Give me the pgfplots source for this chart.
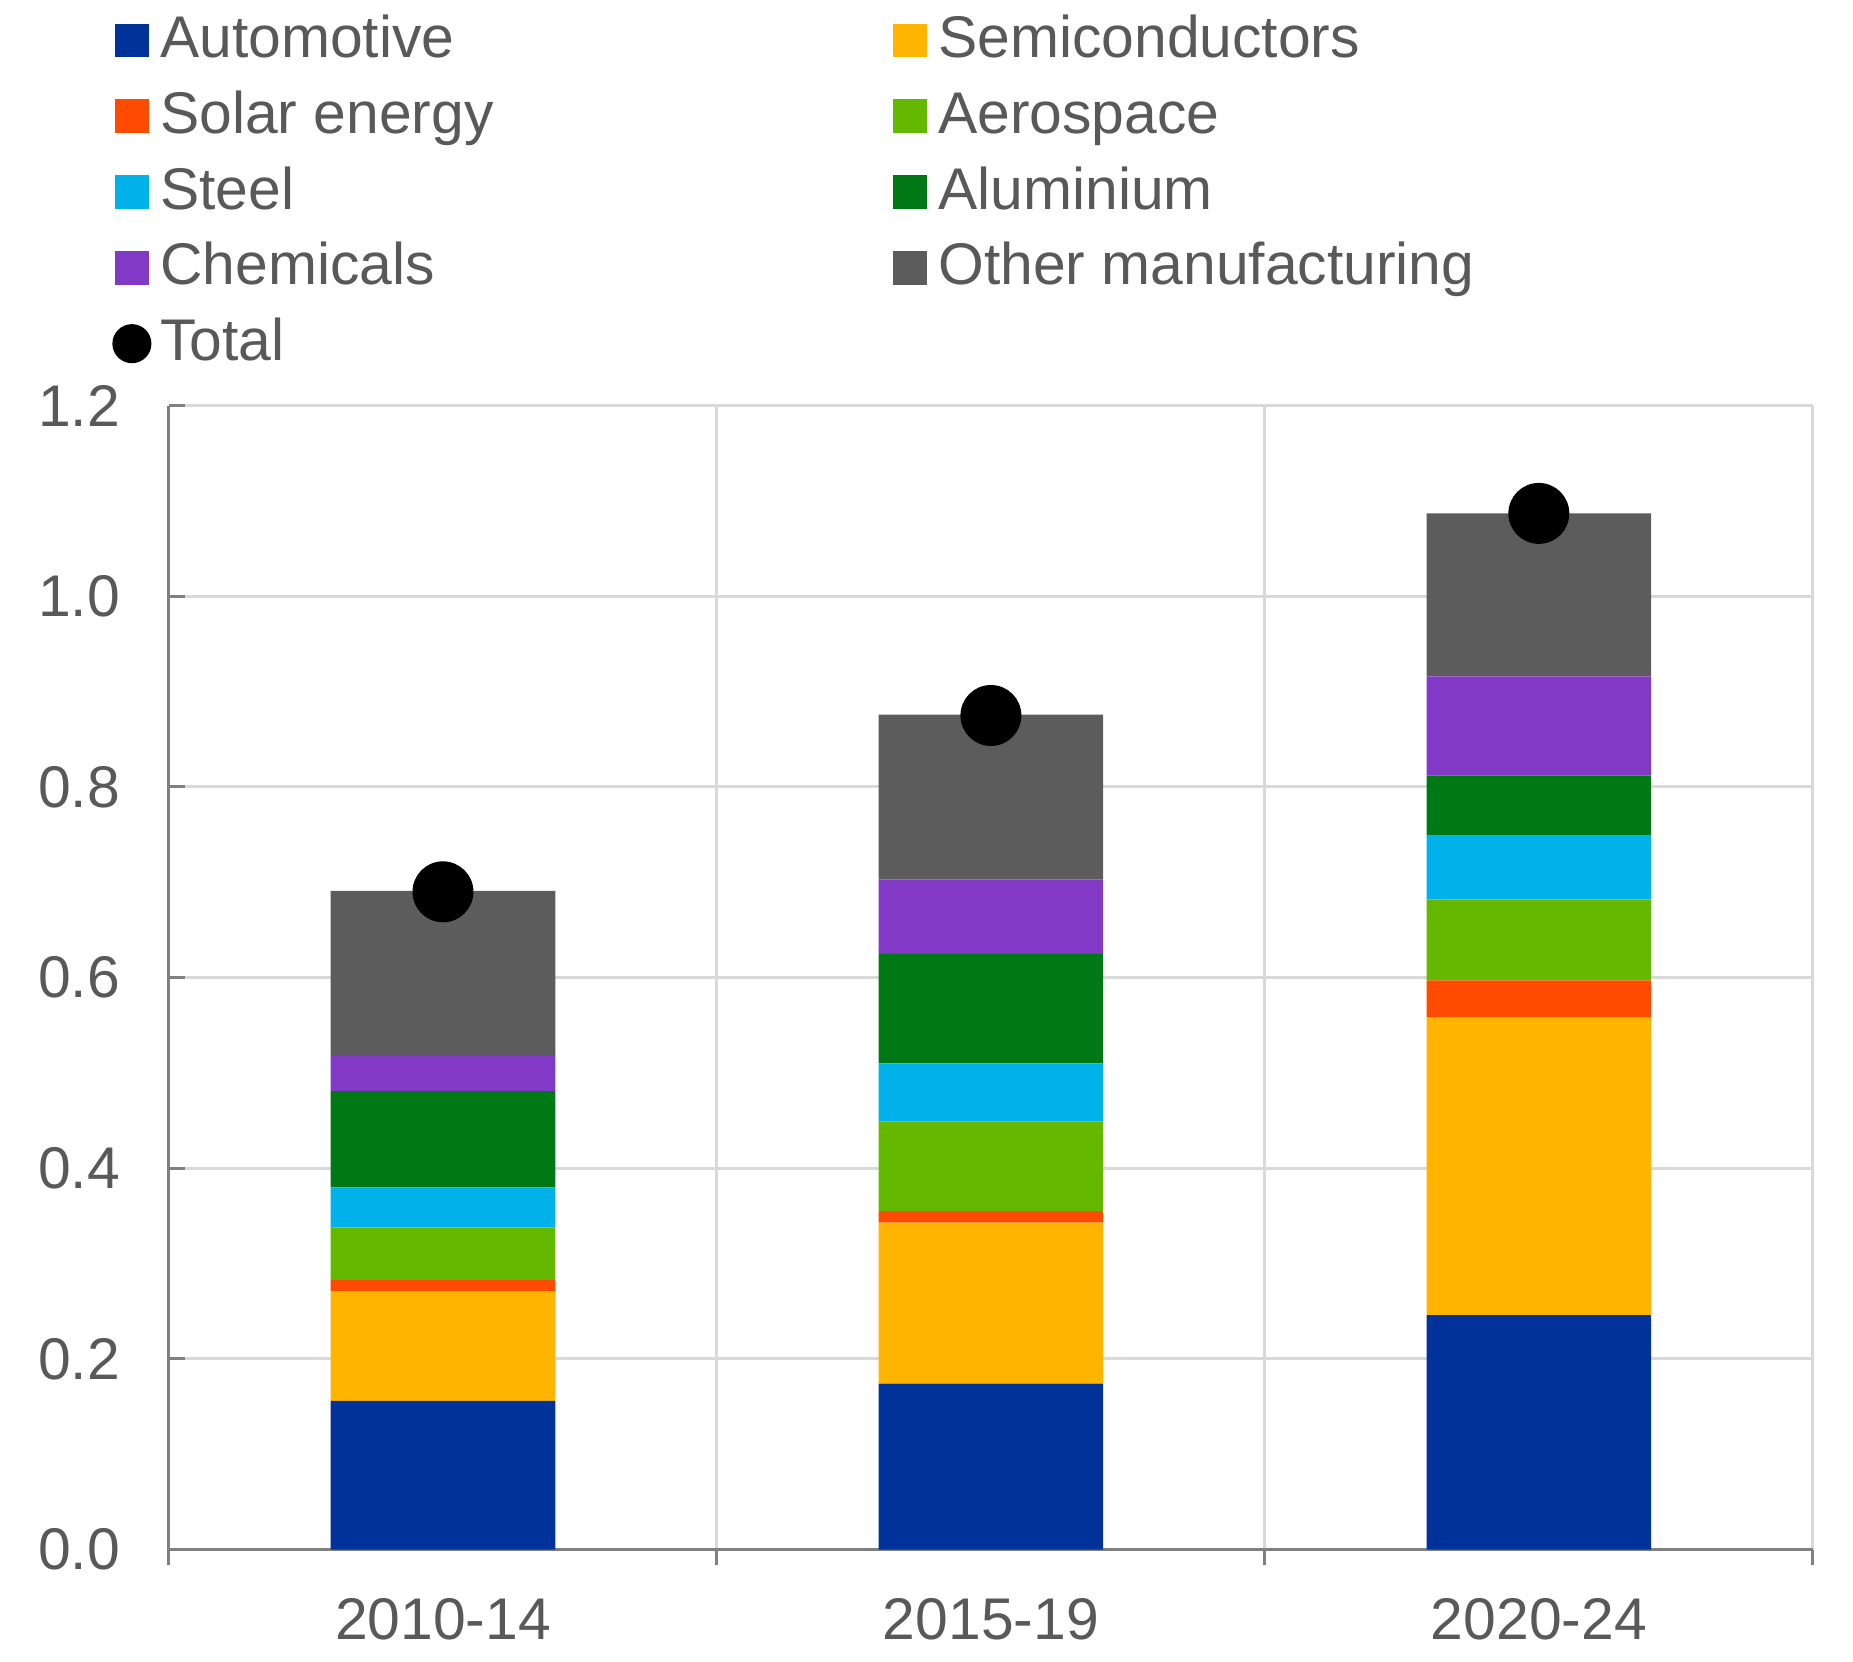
\documentclass[border=0pt]{standalone}
\usepackage{fontspec}
\setmainfont{Liberation Sans}
\usepackage{pgfplots}
\pgfplotsset{compat=1.18}
\definecolor{cAuto}{HTML}{003299}
\definecolor{cSemi}{HTML}{FFB400}
\definecolor{cSolar}{HTML}{FF4B00}
\definecolor{cAero}{HTML}{65B800}
\definecolor{cSteel}{HTML}{00B1EA}
\definecolor{cAlum}{HTML}{007816}
\definecolor{cChem}{HTML}{8139C6}
\definecolor{cOther}{HTML}{5C5C5C}
\definecolor{tgray}{HTML}{595959}
\definecolor{agray}{HTML}{808080}
\definecolor{ggray}{HTML}{D9D9D9}
\newcommand{\LE}[1]{\makebox[153.35pt][l]{\rule[-4.39pt]{0pt}{15.92pt}#1}}
\newcommand{\LR}[1]{\rule[-4.39pt]{0pt}{15.92pt}#1}
\pgfplotsset{
  sqleg/.style={legend image code/.code={\fill[##1] (0pt,-3.55pt) rectangle (7.1pt,3.55pt); \path[draw=none,fill=none] (-0.55pt,-4.1pt) rectangle (9.5pt,4.1pt);}},
  dotleg/.style={legend image code/.code={\fill[black,draw=none] (3.55pt,0pt) circle (4.1pt); \path[draw=none,fill=none] (-0.55pt,-4.1pt) rectangle (9.5pt,4.1pt);}},
}
\begin{document}
\begin{tikzpicture}
\begin{axis}[
  at={(0pt,0pt)}, anchor=south west,
  scale only axis, width=345.2pt, height=240.2pt,
  xmin=0, xmax=3, ymin=0, ymax=1.2,
  enlargelimits=false,
  ybar stacked, bar width=0.41,
  axis x line*=bottom, axis y line*=left,
  axis line style={-, draw=agray, line width=0.63pt},
  xtick={0,1,2,3}, xticklabels={},
  extra x ticks={0.5,1.5,2.5},
  extra x tick labels={2010-14,2015-19,2020-24},
  extra x tick style={grid=none, major tick length=0pt},
  ytick={0,0.2,0.4,0.6,0.8,1.0,1.2},
  xtick align=outside, ytick align=inside,
  major tick length=3.3pt,
  tick style={draw=agray, line width=0.63pt},
  grid=major,
  grid style={draw=ggray, line width=0.63pt},
  /pgf/number format/assume math mode=true,
  yticklabel style={/pgf/number format/.cd, fixed, fixed zerofill, precision=1, /tikz/.cd},
  tick label style={font=\fontsize{12.35}{14}\selectfont, text=tgray},
  yticklabel style={inner sep=0pt, anchor=east, xshift=-10.1pt},
  xticklabel style={inner sep=0pt, anchor=north, yshift=-10.1pt},
  legend columns=2,
  legend cell align=left,
  legend style={at={(axis description cs:-0.03444,1.3525)}, anchor=north west,
    draw=none, fill=none, inner sep=0pt, outer sep=0pt,
    column sep=0pt, row sep=0pt,
    nodes={inner sep=0pt, outer sep=0pt, text depth=4.39pt, text height=11.53pt},
    font=\fontsize{12.35}{14}\selectfont, text=tgray},
]
\addplot[fill=cAuto, draw=none, sqleg] coordinates {(0.5,0.156) (1.5,0.174) (2.5,0.246)};
\addlegendentry{\LE{Automotive}}
\addplot[fill=cSemi, draw=none, sqleg] coordinates {(0.5,0.115) (1.5,0.169) (2.5,0.312)};
\addlegendentry{\LR{Semiconductors}}
\addplot[fill=cSolar, draw=none, sqleg] coordinates {(0.5,0.012) (1.5,0.012) (2.5,0.039)};
\addlegendentry{\LE{Solar energy}}
\addplot[fill=cAero, draw=none, sqleg] coordinates {(0.5,0.055) (1.5,0.094) (2.5,0.085)};
\addlegendentry{\LR{Aerospace}}
\addplot[fill=cSteel, draw=none, sqleg] coordinates {(0.5,0.042) (1.5,0.061) (2.5,0.067)};
\addlegendentry{\LE{Steel}}
\addplot[fill=cAlum, draw=none, sqleg] coordinates {(0.5,0.101) (1.5,0.115) (2.5,0.063)};
\addlegendentry{\LR{Aluminium}}
\addplot[fill=cChem, draw=none, sqleg] coordinates {(0.5,0.038) (1.5,0.078) (2.5,0.104)};
\addlegendentry{\LE{Chemicals}}
\addplot[fill=cOther, draw=none, sqleg] coordinates {(0.5,0.172) (1.5,0.173) (2.5,0.171)};
\addlegendentry{\LR{Other manufacturing}}
\addlegendimage{dotleg}
\addlegendentry{\LE{Total}}
\end{axis}
\begin{axis}[
  at={(0pt,0pt)}, anchor=south west,
  scale only axis, width=345.2pt, height=240.2pt,
  xmin=0, xmax=3, ymin=0, ymax=1.2,
  hide axis, clip=false,
]
\addplot[only marks, mark=*, mark size=6.2pt, mark options={fill=black, draw=none}] coordinates {(0.5,0.690) (1.5,0.875) (2.5,1.087)};
\end{axis}
\pgfresetboundingbox
\path[use as bounding box] (-35.49pt,-23.42pt) rectangle (353.64pt,325.40pt);
\end{tikzpicture}
\end{document}
